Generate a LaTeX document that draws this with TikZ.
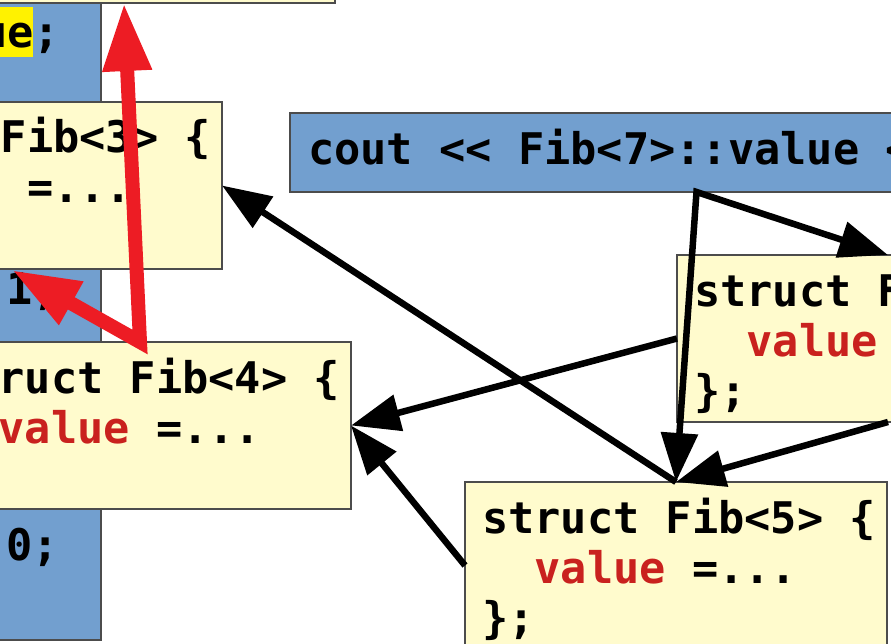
\documentclass[tikz,border=0pt]{standalone}
\usepackage{fontspec}
\newfontfamily\codefont{DejaVu Sans Mono}
\usetikzlibrary{arrows.meta}

\begin{document}
\begin{tikzpicture}[x=1pt, y=-1pt,
	>={Triangle[length=49pt, width=36pt]},
	box/.style={draw=black!70, line width=1.2pt, fill=structyel, minimum width=422pt, minimum height=167pt, anchor=north west, inner sep=0pt, outer sep=0pt},
	code/.style={anchor=base west, inner sep=0pt, font=\codefont\bfseries\fontsize{43.6}{50}\selectfont},
	blk/.style={line width=6.5pt, line join=miter},
	redarr/.style={draw=arrred, line width=14pt, line join=miter, {Triangle[length=68pt, width=46pt]}-{Triangle[length=68pt, width=46pt]}}]
	\definecolor{structyel}{RGB}{255,251,205}
	\definecolor{codeblue}{RGB}{114,159,207}
	\definecolor{valred}{RGB}{201,33,30}
	\definecolor{arrred}{RGB}{237,28,36}
	\useasboundingbox (0,0) rectangle (891,644);
	\clip (0,0) rectangle (891,644);
	% code column behind the structs
	\draw[fill=codeblue, draw=black!70, line width=1.2pt] (-20,-20) rectangle (101,640);
	\fill[yellow] (-97,7) rectangle (33,57);
	\node[code] (ln0) at (-97.5,48) {value;};
	\node[code] (ln5) at (6,305) {1;};
	\node[code] (ln10) at (6,560) {0;};
	% instantiated structs
	\node[box] (fib2) at (-87,-164) {};
	\node[box] (fib3) at (-200,102) {};
	\node[box, fill=codeblue, minimum width=813pt, minimum height=79pt] (cout) at (290,113) {};
	\node[code] (coutl) at ([xshift=18pt, yshift=-52pt]cout.north west) {cout << Fib<7>::value <<};
	\node[box] (fib6) at (677,255) {};
	\node[box] (fib4) at (-71,342) {};
	\node[box] (fib5) at (465,482) {};
	\foreach \n/\k in {fib3/3, fib4/4, fib5/5, fib6/6} {
		\node[code] (\n-a) at ([xshift=17pt, yshift=-51pt]\n.north west) {struct Fib<\k> \{};
		\node[code] (\n-b) at ([xshift=17pt, yshift=-101pt]\n.north west) {\ \ \textcolor{valred}{value} =...};
		\node[code] (\n-c) at ([xshift=17pt, yshift=-151pt]\n.north west) {\};};
	}
	% recursion
	\draw[blk, <->] (fib5.north) -- (cout.south) -- (fib6.north);
	\draw[blk, ->] (fib6.west) -- (fib4.east);
	\draw[blk, ->] (fib6.south) -- (fib5.north);
	\draw[blk, ->] (fib5.north) -- (fib3.east);
	\draw[blk, ->] (fib5.west) -- (fib4.east);
	\coordinate (r1) at (12,270);
	\draw[redarr] (fib2.south) -- (fib4.north) -- (r1);
\end{tikzpicture}
\end{document}
